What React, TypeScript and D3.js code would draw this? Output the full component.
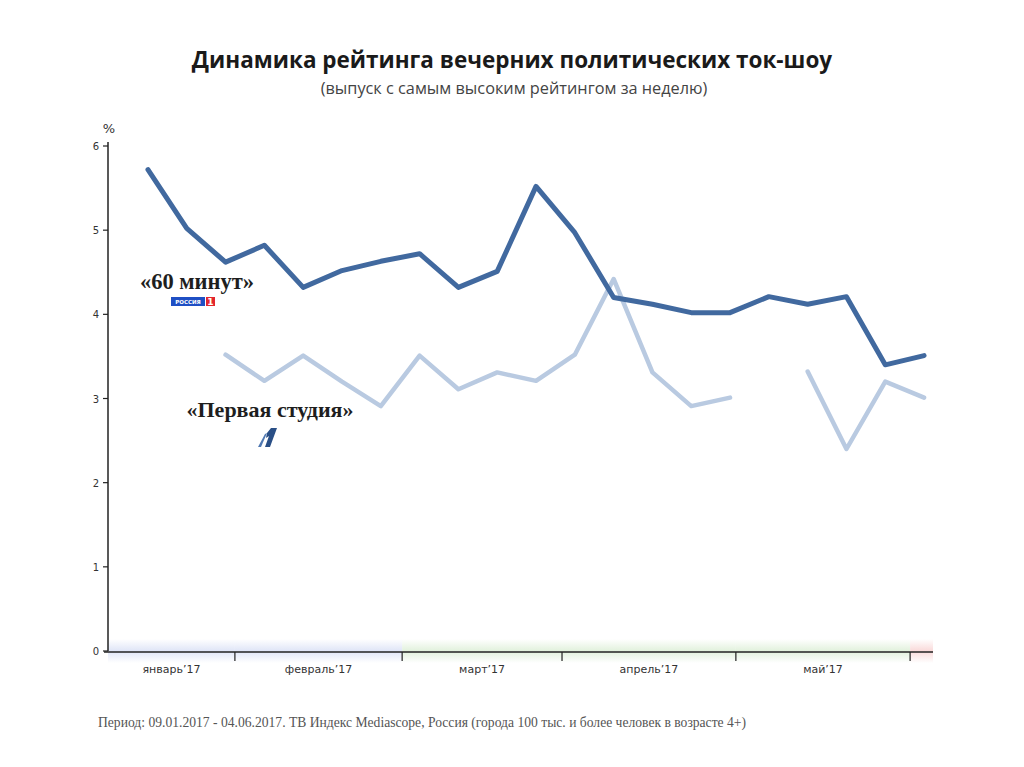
import React from "react";
import * as d3 from "d3";

const weeks = d3.range(21);
const show60 = [5.72, 5.02, 4.62, 4.82, 4.32, 4.52, 4.63, 4.72, 4.32, 4.51, 5.52, 4.97, 4.2, 4.12, 4.02, 4.02, 4.21, 4.12, 4.21, 3.4, 3.51];
const showFirst: (number | null)[] = [null, null, 3.52, 3.21, 3.51, 3.2, 2.91, 3.51, 3.11, 3.31, 3.21, 3.52, 4.42, 3.31, 2.91, 3.01, null, 3.32, 2.4, 3.2, 3.01];
const yTicks = [0, 1, 2, 3, 4, 5, 6];
const monthNames = ["январь’17", "февраль’17", "март’17", "апрель’17", "май’17"];
// month boundaries in week-index units (axis start, boundaries, axis end)
const monthEdges = [-1.03, 2.24, 6.55, 10.67, 15.15, 19.64, 20.23];
const bandColors = ["#dfe5f7", "#dfe5f7", "#e1f1dc", "#e1f1dc", "#e1f1dc", "#f9d9d9"];

const title = "Динамика рейтинга вечерних политических ток-шоу";
const subtitle = "(выпуск с самым высоким рейтингом за неделю)";
const label60 = "«60 минут»";
const labelFirst = "«Первая студия»";
const footnote = "Период: 09.01.2017 - 04.06.2017. ТВ Индекс Mediascope, Россия (города 100 тыс. и более человек в возрасте 4+)";

export default function App() {
  const x = d3.scaleLinear().domain([-1.03, 20.23]).range([108, 933]);
  const y = d3.scaleLinear().domain([0, 6]).range([651, 146]);

  const line60 = d3.line<number>().x((_, i) => x(weeks[i])).y((d) => y(d));
  const lineFirst = d3
    .line<number | null>()
    .defined((d) => d !== null)
    .x((_, i) => x(weeks[i]))
    .y((d) => y(d as number));

  const y0 = y(0);

  return (
    <svg width={1024} height={767} style={{ position: "absolute", left: 0, top: 0, background: "#fff" }}>
      <defs>
        {bandColors.map((c, i) => (
          <linearGradient key={i} id={`band${i}`} x1="0" y1="0" x2="0" y2="1">
            <stop offset="0" stopColor={c} stopOpacity={0} />
            <stop offset="0.5" stopColor={c} stopOpacity={1} />
            <stop offset="1" stopColor={c} stopOpacity={0} />
          </linearGradient>
        ))}
      </defs>

      <text x={512} y={68} textAnchor="middle" fontFamily="'Open Sans', sans-serif" fontWeight={700} fontSize={22.5} fill="#1a1a1a">
        {title}
      </text>
      <text x={514} y={94} textAnchor="middle" fontFamily="'Open Sans', sans-serif" fontSize={16.3} fill="#444">
        {subtitle}
      </text>

      {/* bands near the x axis */}
      {bandColors.map((c, i) => (
        <rect
          key={i}
          x={x(monthEdges[i])}
          y={y0 - 12}
          width={x(monthEdges[i + 1]) - x(monthEdges[i])}
          height={24}
          fill={`url(#band${i})`}
        />
      ))}

      {/* y axis */}
      <line x1={108} x2={108} y1={y(6) - 4} y2={y0} stroke="#222" strokeWidth={1.5} />
      {yTicks.map((t) => (
        <g key={t}>
          <line x1={103} x2={108} y1={y(t)} y2={y(t)} stroke="#222" strokeWidth={1.2} />
          <text x={99} y={y(t) + 4} textAnchor="end" fontFamily="'DejaVu Sans', sans-serif" fontSize={10} fill="#333">
            {t}
          </text>
        </g>
      ))}
      <text x={109} y={133} textAnchor="middle" fontFamily="'DejaVu Sans', sans-serif" fontSize={13} fill="#333">
        %
      </text>

      {/* x axis */}
      <line x1={104} x2={x(20.23)} y1={y0 + 1} y2={y0 + 1} stroke="#222" strokeWidth={1.5} />
      {monthEdges.slice(1, 6).map((m, i) => (
        <line key={i} x1={x(m)} x2={x(m)} y1={y0 + 1} y2={y0 + 10} stroke="#222" strokeWidth={1.2} />
      ))}
      {monthNames.map((m, i) => (
        <text
          key={m}
          x={(x(monthEdges[i]) + x(monthEdges[i + 1])) / 2}
          y={y0 + 22}
          textAnchor="middle"
          fontFamily="'DejaVu Sans', sans-serif"
          fontSize={11}
          fill="#333"
        >
          {m}
        </text>
      ))}

      {/* lines */}
      <path d={lineFirst(showFirst) || ""} fill="none" stroke="#b9cae1" strokeWidth={4.5} strokeLinejoin="round" strokeLinecap="round" />
      <path d={line60(show60) || ""} fill="none" stroke="#41699f" strokeWidth={5} strokeLinejoin="round" strokeLinecap="round" />

      {/* labels */}
      <text x={197} y={289} textAnchor="middle" fontFamily="'Liberation Serif', serif" fontWeight={700} fontSize={22.5} fill="#1e1e1e">
        {label60}
      </text>
      <g transform="translate(171,297)">
        <rect x={0} y={0} width={34} height={9} fill="#1f4fc4" />
        <text x={17} y={7} textAnchor="middle" fontFamily="'DejaVu Sans', sans-serif" fontWeight={700} fontSize={5.5} fill="#fff">
          РОССИЯ
        </text>
        <rect x={35} y={0} width={9} height={9} fill="#e3262e" />
        <text x={39.5} y={8} textAnchor="middle" fontFamily="'DejaVu Sans', sans-serif" fontWeight={700} fontSize={9} fill="#fff">
          1
        </text>
      </g>

      <text x={270} y={417} textAnchor="middle" fontFamily="'Liberation Serif', serif" fontWeight={700} fontSize={22} fill="#1e1e1e">
        {labelFirst}
      </text>
      <g transform="translate(258,428)">
        <path d="M13,0 L19,0 L12,19 L7,19 L11,8 L8,10 L9,5 Z" fill="#2a4f86" />
        <path d="M7,6 L9,5 L3,19 L0,19 Z" fill="#4f78b2" />
      </g>

      {/* footnote */}
      <text x={98} y={727} fontFamily="'Liberation Serif', serif" fontSize={14} fill="#555" textLength={648} lengthAdjust="spacingAndGlyphs">
        {footnote}
      </text>
    </svg>
  );
}
